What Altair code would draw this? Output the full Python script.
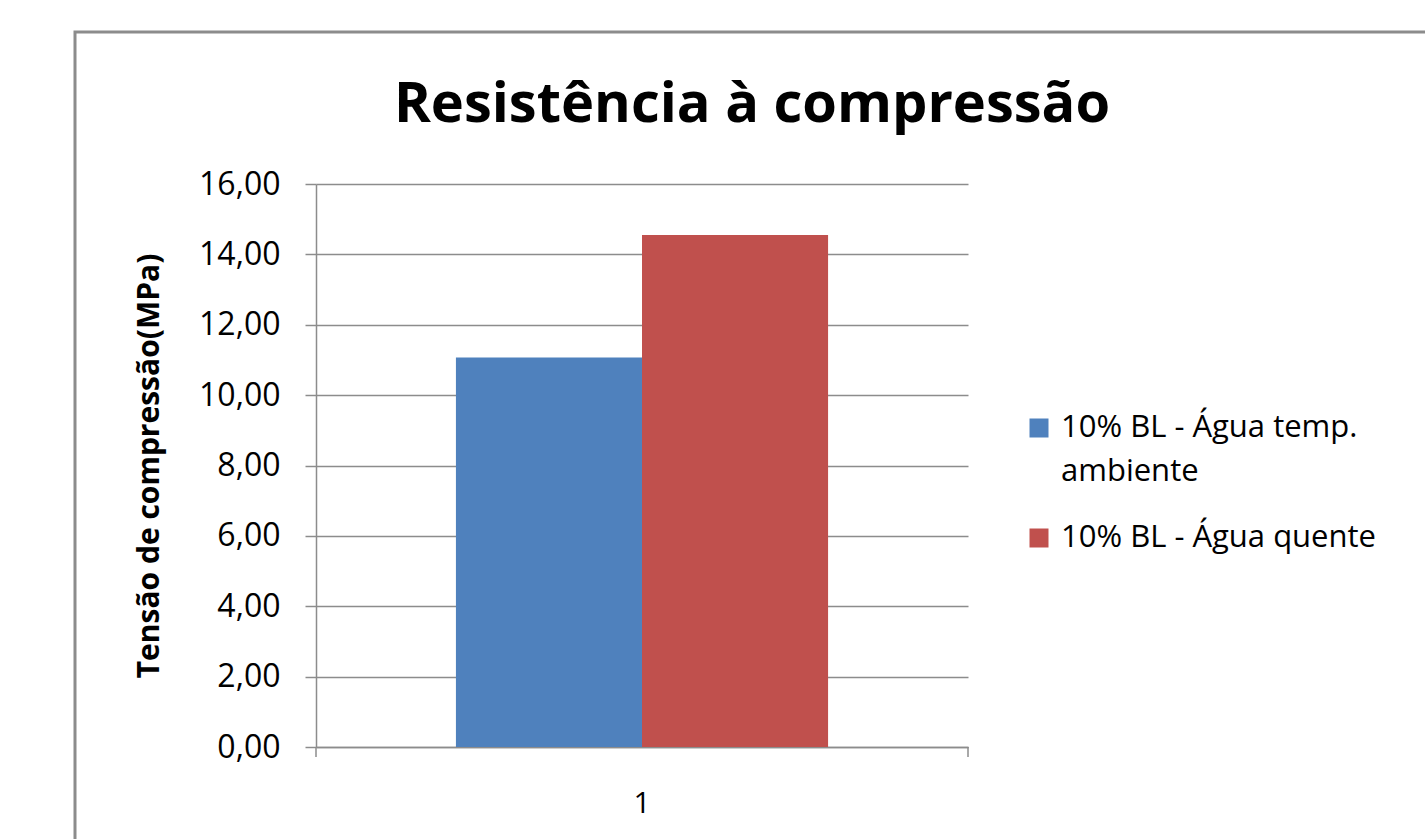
import altair as alt
import pandas as pd

# Compressive strength, one test group, two curing conditions
categories = ["1", "1"]
series = ["10% BL - Água temp. ambiente", "10% BL - Água quente"]
legend_labels = ["10% BL - Água temp.\nambiente", "10% BL - Água quente"]
values = [11.07, 14.55]
colors = ["#4F81BD", "#C0504D"]
y_ticks = [0, 2, 4, 6, 8, 10, 12, 14, 16]
title_text = "Resistência à compressão"

df = pd.DataFrame({"grupo": categories, "serie": series, "tensao": values, "rotulo": legend_labels})

W, H = 652, 563
LEFT, TOP = 316, 184
PAD = {"left": LEFT, "top": TOP, "right": 1425 - LEFT - W, "bottom": 839 - TOP - H}
FONT = "Open Sans"
GRAY = "#8c8c8c"

color_scale = alt.Scale(domain=series, range=colors)

bars = alt.Chart(df).mark_bar().encode(
    x=alt.X(
        "grupo:N",
        title=None,
        scale=alt.Scale(paddingInner=0, paddingOuter=0.376),
        axis=alt.Axis(
            labelAngle=0, ticks=False, domain=True, domainColor=GRAY, domainWidth=1.5,
            labelFontSize=30, labelFont=FONT, labelColor="#000", labelPadding=41,
            grid=False,
        ),
    ),
    xOffset=alt.XOffset("serie:N", sort=series, scale=alt.Scale(paddingInner=0, paddingOuter=0)),
    y=alt.Y(
        "tensao:Q",
        title="Tensão de compressão(MPa)",
        scale=alt.Scale(domain=[0, 16], nice=False),
        axis=alt.Axis(
            values=y_ticks, format=".2f", labelExpr="replace(datum.label, '.', ',')",
            labelFontSize=32, labelFont=FONT, labelColor="#000", labelPadding=25,
            tickSize=11, tickColor=GRAY, tickWidth=1.5,
            domainColor=GRAY, domainWidth=1.5,
            gridColor=GRAY, gridWidth=1.5,
            titleFont=FONT, titleFontSize=30, titleFontWeight="bold", titleColor="#000",
            titlePadding=34,
        ),
    ),
    color=alt.Color("serie:N", sort=series, scale=color_scale, legend=None),
)

# x-axis end ticks at the band edges
edge_ticks = alt.Chart(pd.DataFrame({"e": [0, 1]})).mark_rule(color=GRAY, strokeWidth=1.5).encode(
    x=alt.X("e:Q", scale=alt.Scale(domain=[0, 1]), axis=None),
    y=alt.value(H),
    y2=alt.value(H + 10),
)

# outer chart-area frame
frame = alt.Chart(pd.DataFrame({"f": [0]})).mark_rect(
    fill=None, stroke=GRAY, strokeWidth=3
).encode(
    x=alt.value(75 - LEFT), x2=alt.value(1500 - LEFT),
    y=alt.value(32 - TOP), y2=alt.value(900 - TOP),
)

# chart title
title = alt.Chart(pd.DataFrame({"t": [title_text]})).mark_text(
    font=FONT, fontSize=56, fontWeight="bold", color="#000",
    align="center", baseline="alphabetic",
).encode(text="t:N", x=alt.value(752 - LEFT), y=alt.value(122 - TOP))

# legend: one swatch and label per series
legend_rows = []
for i, (s, base) in enumerate(zip(series, [437, 547])):
    row = alt.Chart(df).transform_filter(alt.datum.serie == s)
    legend_rows.append(
        row.mark_square(size=361, opacity=1).encode(
            color=alt.Color("serie:N", sort=series, scale=color_scale, legend=None),
            x=alt.value(1039 - LEFT), y=alt.value(base - 9 - TOP),
        )
    )
    legend_rows.append(
        row.mark_text(
            font=FONT, fontSize=31, color="#000", align="left", baseline="alphabetic",
            lineBreak="\n", lineHeight=44,
        ).encode(text="rotulo:N", x=alt.value(1061 - LEFT), y=alt.value(base - TOP))
    )

chart = alt.layer(frame, title, bars, edge_ticks, *legend_rows).resolve_scale(x="independent").properties(
    width=W,
    height=H,
    padding=PAD,
    autosize=alt.AutoSizeParams(type="none"),
    background="white",
).configure_view(stroke=None)

chart.save("out.html", embed_options={"renderer": "svg", "actions": False})
